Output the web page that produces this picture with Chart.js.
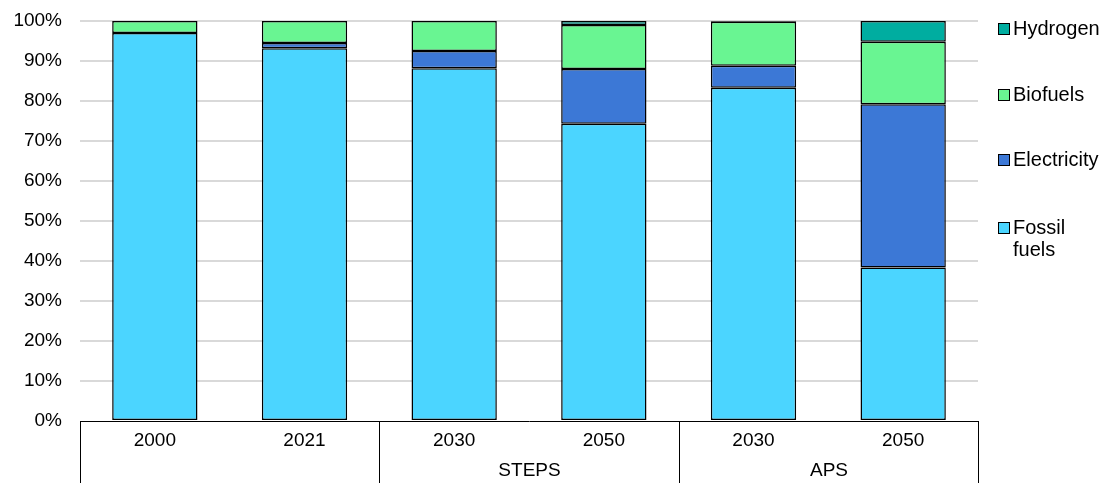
<!DOCTYPE html>
<html>
<head>
<meta charset="utf-8">
<script src="https://cdn.jsdelivr.net/npm/chart.js@4"></script>
<style>
    html, body { margin: 0; padding: 0; background: #fff; }
    #wrap { width: 1105px; height: 483px; }
</style>
</head>
<body>
<div id="wrap"><canvas id="fuelChart"></canvas></div>
<script>
const categories = ['2000', '2021', '2030', '2050', '2030', '2050'];
const groups = [
    { label: '', from: 0, to: 1 },
    { label: 'STEPS', from: 2, to: 3 },
    { label: 'APS', from: 4, to: 5 }
];
const fossilFuels = [97.0, 93.2, 88.2, 74.3, 83.3, 38.4];
const electricity = [0.0, 1.3, 4.3, 13.7, 5.5, 40.8];
const biofuels = [3.0, 5.5, 7.5, 11.0, 11.0, 15.6];
const hydrogen = [0.0, 0.0, 0.0, 1.0, 0.2, 5.2];
const yTicks = [0, 10, 20, 30, 40, 50, 60, 70, 80, 90, 100];

const FONT = 'Arial, "Liberation Sans", sans-serif';

// group labels + box lines under the x axis
const groupAxis = {
    id: 'groupAxis',
    afterDraw(chart) {
        const ctx = chart.ctx;
        const x = chart.scales.x;
        const area = chart.chartArea;
        const half = (x.getPixelForValue(1) - x.getPixelForValue(0)) / 2;
        ctx.save();
        ctx.strokeStyle = '#000';
        ctx.lineWidth = 1;
        ctx.fillStyle = '#000';
        ctx.font = '19px ' + FONT;
        ctx.textAlign = 'center';
        ctx.textBaseline = 'middle';
        groups.forEach(g => {
            const left = Math.round(x.getPixelForValue(g.from) - half) + 0.5;
            const right = Math.round(x.getPixelForValue(g.to) + half) + 0.5;
            ctx.beginPath();
            ctx.moveTo(left, area.bottom);
            ctx.lineTo(left, chart.height);
            ctx.moveTo(right, area.bottom);
            ctx.lineTo(right, chart.height);
            ctx.stroke();
            if (g.label) {
                ctx.fillText(g.label, (left + right) / 2, area.bottom + 50);
            }
        });
        ctx.restore();
    }
};

// legend on the right, top to bottom in reverse order
const sideLegend = {
    id: 'sideLegend',
    afterDraw(chart) {
        const ctx = chart.ctx;
        const rows = [29, 95, 160, 228];
        const items = chart.data.datasets.slice().reverse();
        ctx.save();
        ctx.font = '20px ' + FONT;
        ctx.textBaseline = 'middle';
        ctx.textAlign = 'left';
        items.forEach((ds, i) => {
            const y = rows[i];
            ctx.fillStyle = ds.backgroundColor;
            ctx.fillRect(998.5, y - 5.5, 11, 11);
            ctx.strokeStyle = '#000';
            ctx.lineWidth = 1;
            ctx.strokeRect(998.5, y - 5.5, 11, 11);
            ctx.fillStyle = '#000';
            const lines = ds.legendText || [ds.label];
            lines.forEach((t, j) => ctx.fillText(t, 1013, y + j * 22));
        });
        ctx.restore();
    }
};

new Chart(document.getElementById('fuelChart'), {
    type: 'bar',
    data: {
        labels: categories,
        datasets: [
            { label: 'Fossil fuels', legendText: ['Fossil', 'fuels'], data: fossilFuels, backgroundColor: '#4bd5ff' },
            { label: 'Electricity', data: electricity, backgroundColor: '#3c78d6' },
            { label: 'Biofuels', data: biofuels, backgroundColor: '#69f592' },
            { label: 'Hydrogen', data: hydrogen, backgroundColor: '#00ada0' }
        ].map(ds => Object.assign(ds, {
            borderColor: '#000',
            borderWidth: 1.5,
            borderSkipped: false,
            categoryPercentage: 1,
            barPercentage: 0.57
        }))
    },
    options: {
        responsive: true,
        maintainAspectRatio: false,
        animation: false,
        layout: { padding: { top: 21, right: 127, left: 0, bottom: 0 } },
        plugins: {
            legend: { display: false },
            tooltip: { enabled: false }
        },
        scales: {
            x: {
                stacked: true,
                grid: { display: false, drawTicks: false },
                border: { display: true, color: '#000', width: 1 },
                ticks: { color: '#000', font: { size: 19, family: FONT }, padding: 8 },
                afterFit(scale) {
                    scale.height = 62;
                    scale.paddingLeft = 0;
                    scale.paddingRight = 0;
                }
            },
            y: {
                stacked: true,
                min: 0,
                max: 100,
                afterBuildTicks(scale) { scale.ticks = yTicks.map(v => ({ value: v })); },
                grid: {
                    color: c => c.tick.value === 0 ? 'rgba(0,0,0,0)' : '#d9d9d9',
                    lineWidth: 2,
                    drawTicks: false
                },
                border: { display: false },
                ticks: {
                    color: '#000',
                    font: { size: 19, family: FONT },
                    padding: 18,
                    callback: v => v + '%'
                },
                afterFit(scale) {
                    scale.width = 80;
                    scale.paddingTop = 0;
                    scale.paddingBottom = 0;
                }
            }
        }
    },
    plugins: [groupAxis, sideLegend]
});
</script>
</body>
</html>
